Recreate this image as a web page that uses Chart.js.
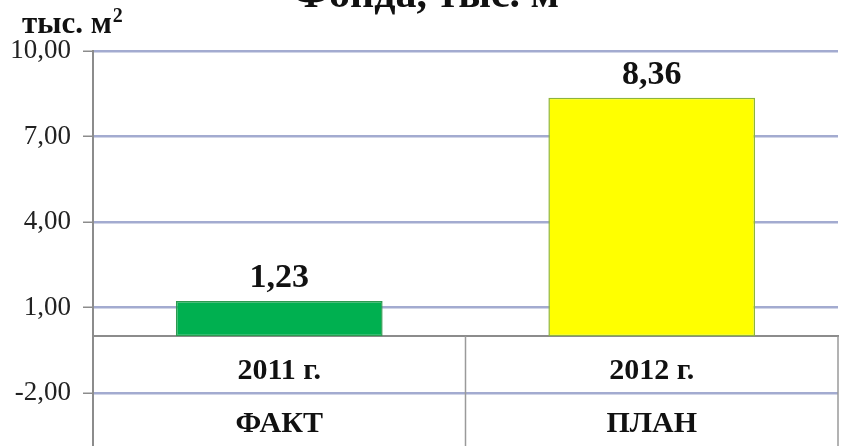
<!DOCTYPE html>
<html>
<head>
<meta charset="utf-8">
<script src="https://cdn.jsdelivr.net/npm/chart.js@4.4.0/dist/chart.umd.min.js"></script>
<style>
  html, body { margin: 0; padding: 0; background: #fff; }
  #wrap { width: 846px; height: 446px; position: relative; }
</style>
</head>
<body>
<div id="wrap"><canvas id="myChart"></canvas></div>
<script>
const years = ["2011 г.", "2012 г."];
const kinds = ["ФАКТ", "ПЛАН"];
const values = [1.23, 8.36];
const barColors = ["#00B050", "#FFFF00"];
const barBorders = ["#2E9A50", "#8DB43C"];
const yTicks = [10, 7, 4, 1, -2];
const unitText = "тыс. м";
const titleText = "Фонда, тыс. м";

const serif = "'Liberation Serif', 'Times New Roman', serif";

function fmt(v) {
  return v.toFixed(2).replace(".", ",");
}

// title (cut off at the top), unit label, table lines under zero, value labels
const extras = {
  id: "extras",
  afterDatasetsDraw(chart) {
    const { ctx, chartArea, scales } = chart;
    const x = scales.x, y = scales.y;
    const y0 = y.getPixelForValue(0);
    ctx.save();

    // table lines
    ctx.strokeStyle = "#9a9a9a";
    ctx.lineWidth = 1.5;
    for (let i = 1; i <= years.length; i++) {
      let px;
      if (i === years.length) px = chartArea.right;
      else px = (x.getPixelForValue(i - 1) + x.getPixelForValue(i)) / 2;
      ctx.beginPath();
      ctx.moveTo(px, y0);
      ctx.lineTo(px, chartArea.bottom);
      ctx.stroke();
    }

    // value labels
    ctx.fillStyle = "#111";
    ctx.font = "bold 34px " + serif;
    ctx.textAlign = "center";
    ctx.textBaseline = "alphabetic";
    const meta = chart.getDatasetMeta(0);
    meta.data.forEach((bar, i) => {
      ctx.fillText(fmt(values[i]), bar.x, bar.y - 14);
    });
    ctx.restore();
  },
  afterDraw(chart) {
    const ctx = chart.ctx;
    ctx.save();
    ctx.fillStyle = "#111";
    ctx.textAlign = "left";
    ctx.textBaseline = "alphabetic";
    ctx.font = "bold 42px " + serif;
    ctx.fillText(titleText, 293, 7);

    ctx.font = "bold 31px " + serif;
    ctx.fillText(unitText, 22, 33);
    const w = ctx.measureText(unitText).width;
    ctx.font = "bold 20px " + serif;
    ctx.fillText("2", 22 + w + 1, 22);
    ctx.restore();
  }
};

const ctx = document.getElementById("myChart").getContext("2d");
const myChart = new Chart(ctx, {
  type: "bar",
  data: {
    labels: years.map((yr, i) => [yr, kinds[i]]),
    datasets: [
      {
        data: values,
        backgroundColor: barColors,
        borderColor: barBorders,
        borderWidth: 1.5,
        borderSkipped: false,
        barPercentage: 0.555,
        categoryPercentage: 1,
      },
    ],
  },
  options: {
    responsive: true,
    maintainAspectRatio: false,
    animation: false,
    layout: {
      padding: { top: 51, right: 8, bottom: 0, left: 0 },
    },
    scales: {
      x: {
        position: { y: 0 },
        grid: { display: false, drawTicks: false },
        border: { display: true, color: "#8c8c8c", width: 2 },
        ticks: {
          color: "#111",
          padding: 8,
          maxRotation: 0,
          font: { family: serif, size: 30, weight: "bold", lineHeight: 1.78 },
        },
      },
      y: {
        min: -3.85,
        max: 10,
        afterBuildTicks: function (scale) {
          scale.ticks = yTicks.map((v) => ({ value: v }));
        },
        afterFit: function (scale) {
          scale.width = 93;
          scale.paddingBottom = 0;
        },
        grid: {
          color: "#A3ABD0",
          lineWidth: 2.5,
          tickColor: "#8c8c8c",
          tickLength: 10,
          tickWidth: 1.5,
        },
        border: { display: true, color: "#8c8c8c", width: 2 },
        ticks: {
          color: "#222",
          padding: 12,
          font: { family: serif, size: 27 },
          callback: function (value) {
            return fmt(value);
          },
        },
      },
    },
    plugins: {
      legend: { display: false },
      tooltip: { enabled: false },
    },
  },
  plugins: [extras],
});
</script>
</body>
</html>
